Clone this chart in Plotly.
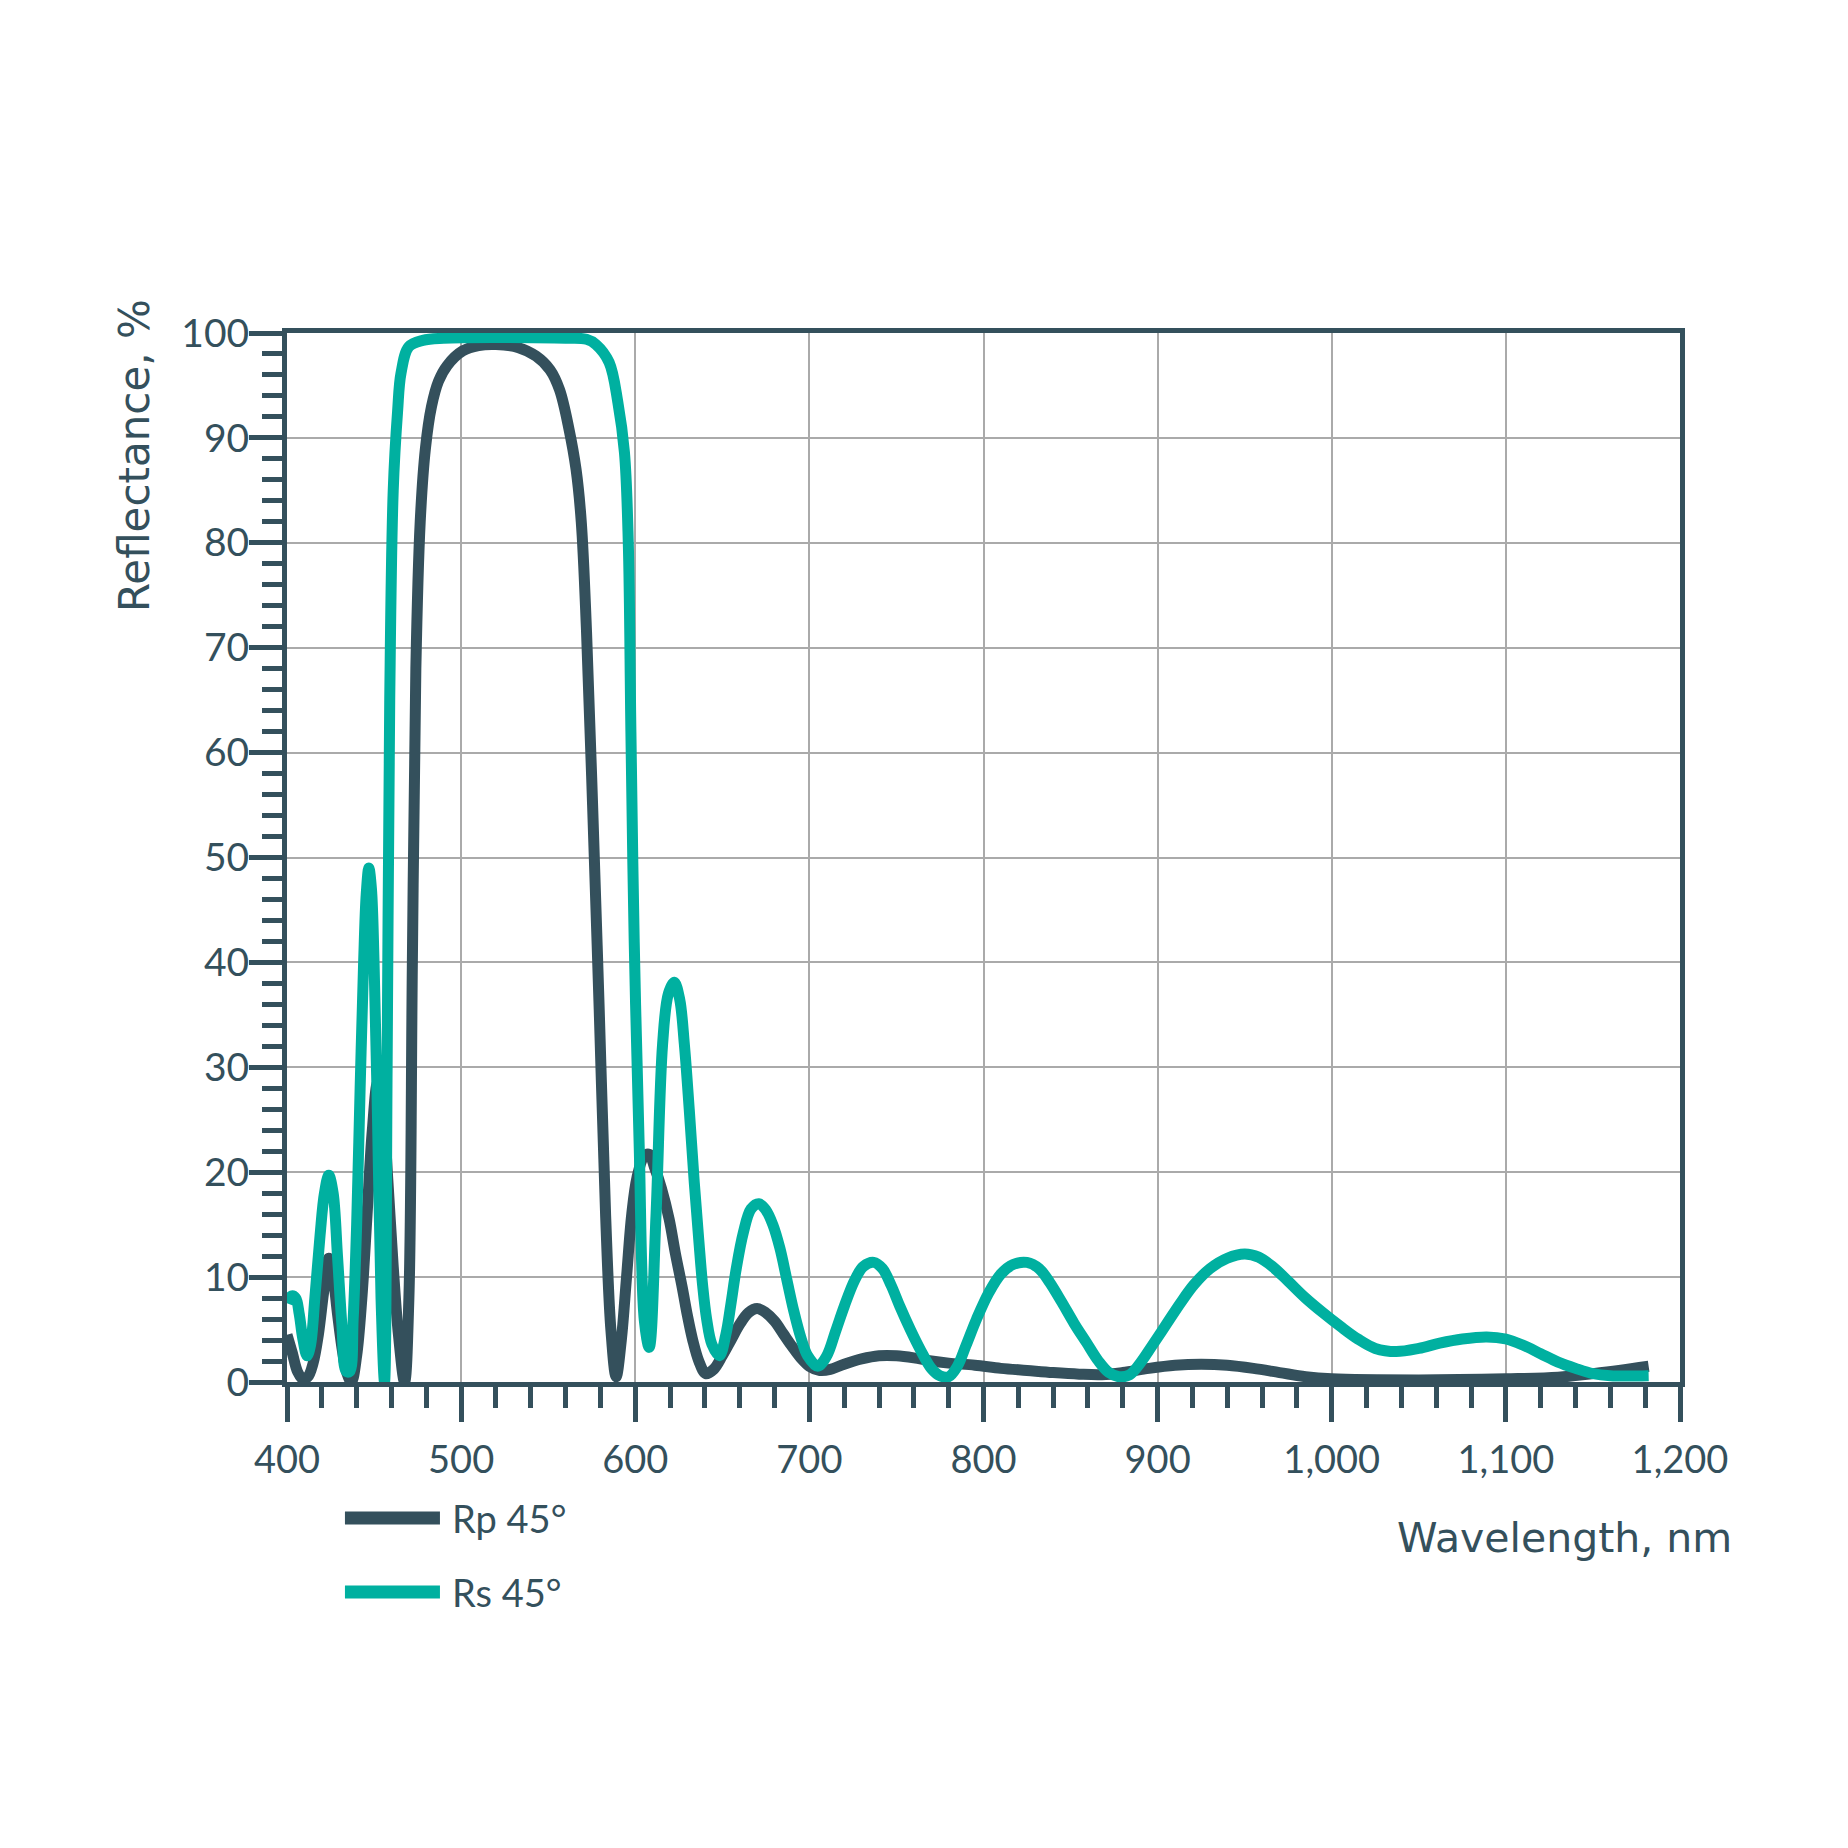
import plotly.graph_objects as go

DARK = "#34505c"
TEAL = "#00b0a0"
GRID = "#aaaaaa"

# Rp 45 deg reflectance (dark curve), wavelength in nm
rp_nm = [400, 403, 406, 409, 412, 415, 418, 421, 424, 426.5, 429, 432, 434.5, 437,
         440, 443, 446, 449, 452, 455, 458, 461, 464, 467.5, 470, 472, 474, 476.5,
         479.5, 483, 487, 492, 501, 510, 520, 533, 543, 551, 556.5, 562, 566, 569, 572,
         575.5, 579.3, 583, 586, 589, 592, 595, 598, 601, 605, 608, 611, 615, 619.5,
         623, 627, 630, 633, 636.5, 640.5, 645, 650, 655, 660, 665, 670, 675, 680, 685,
         690, 695, 700, 706, 712, 720, 730, 740, 750, 760, 770, 780, 795, 810, 825, 840,
         855, 868, 880, 895, 910, 925, 940, 955, 970, 985, 1000, 1050, 1100, 1130,
         1150, 1165, 1182]
rp_val = [4.5, 2.8, 1, 0.3, 0.5, 1.8, 4.5, 8.5, 11.8, 10, 6.5, 2.8, 0.8, 0,
          2.5, 8, 16, 24, 28.5, 26, 19, 11, 4.5, 0, 8, 40, 68, 82,
          89, 93, 95.4, 96.9, 98.3, 98.8, 98.9, 98.6, 97.8, 96.5, 94.6, 90.8, 87, 82, 71.6,
          55, 35.5, 15.8, 5, 0.5, 4, 10, 16, 19.5, 21.5, 21.7, 20.5, 18.5, 15.5,
          12.3, 9, 6.3, 4, 2, 0.8, 1.2, 2.5, 4, 5.5, 6.6, 7, 6.6, 5.8, 4.6,
          3.4, 2.3, 1.5, 1.1, 1.2, 1.7, 2.2, 2.5, 2.5, 2.3, 2.0, 1.8, 1.6, 1.3, 1.1, 0.9,
          0.75, 0.7, 0.9, 1.3, 1.6, 1.7, 1.6, 1.3, 0.9, 0.5, 0.3, 0.2, 0.3, 0.45,
          0.8, 1.1, 1.5]

# Rs 45 deg reflectance (teal curve)
rs_nm = [400, 402.5, 405, 407, 409, 411.5, 413.5, 416, 419, 421.5, 424, 426.5, 429,
         431.5, 434, 436, 438, 440, 442, 444, 445.5, 447, 448.5, 450, 452, 454, 456,
         457.5, 459, 461, 463.5, 465.5, 470, 478, 490, 560, 572, 577.5, 585, 590,
         593.8, 596, 597.5, 599.4, 602.3, 605.2, 608, 611.9, 615.7, 619, 622.4, 625.5,
         628.2, 631, 633.9, 636.5, 638.7, 641, 644, 648.3, 652, 655, 658, 662, 666.5,
         671, 675, 679, 683, 687, 691, 695, 699, 704.8, 710, 715, 720, 726, 731, 737,
         742, 747, 752, 758, 764, 770, 775, 780, 785, 790, 796, 803, 810, 817, 825,
         832, 838, 845, 852, 859, 866, 872, 878, 884, 890, 897, 905, 913, 921, 930,
         940, 950, 958, 966, 975, 985, 995, 1005, 1015, 1025, 1037, 1050, 1062, 1075,
         1089, 1100, 1110, 1120, 1130, 1140, 1150, 1160, 1182]
rs_val = [7.5, 8.2, 8, 6.5, 4.2, 2.5, 3.5, 8, 14, 18, 19.7, 18, 12,
          5.5, 1, 1, 6, 15, 28, 40, 46.5, 49, 47, 40, 25, 8, 0,
          30, 65, 85, 92.5, 96.2, 98.7, 99.3, 99.5, 99.5, 99.4, 98.9, 97.2, 93.4,
          88.6, 80, 62, 42, 22.3, 5.9, 3.3, 15.8, 32.2, 37, 38.1, 36.5,
          32.2, 26, 19, 13.5, 9.2, 6, 3.6, 2.5, 4.5, 7.5, 10.8, 14.2, 16.5,
          17, 16.4, 15, 12.8, 9.8, 6.8, 4.3, 2.5, 1.5, 2.5, 4.8, 7.2, 9.7, 11, 11.4,
          10.8, 9.2, 7.2, 5, 3, 1.3, 0.6, 0.5, 1.5, 3.5, 6, 8.5, 10.3, 11.2, 11.4,
          10.8, 9.5, 7.6, 5.6, 3.8, 2.0, 0.9, 0.5, 0.7, 1.8, 3.5, 5.5, 7.5, 9.3, 10.8,
          11.8, 12.2, 11.9, 11, 9.6, 8.0, 6.6, 5.3, 4.1, 3.2, 2.9, 3.2, 3.7, 4.1,
          4.3, 4.1, 3.5, 2.7, 1.9, 1.3, 0.8, 0.6, 0.6]

series_names = ["Rp 45°", "Rs 45°"]
series_colors = [DARK, TEAL]

x_tickvals = [400, 500, 600, 700, 800, 900, 1000, 1100, 1200]
x_ticktext = ["400", "500", "600", "700", "800", "900", "1,000", "1,100", "1,200"]
y_tickvals = [0, 10, 20, 30, 40, 50, 60, 70, 80, 90, 100]

fig = go.Figure()
for name, xs, ys, col in zip(series_names, [rp_nm, rs_nm], [rp_val, rs_val], series_colors):
    fig.add_trace(go.Scatter(x=xs, y=ys, name=name, mode="lines",
                             line=dict(color=col, width=11, shape="spline", smoothing=1.0)))

fig.update_xaxes(
    range=[400, 1200], tickvals=x_tickvals, ticktext=x_ticktext,
    showline=True, linecolor=DARK, linewidth=5, mirror=True,
    showgrid=True, gridcolor=GRID, gridwidth=2, zeroline=False,
    ticks="outside", ticklen=35, tickwidth=5, tickcolor=DARK,
    minor=dict(dtick=20, tick0=400, ticks="outside", ticklen=21, tickwidth=5,
               tickcolor=DARK, showgrid=False),
    tickfont=dict(family="Lato", size=38, color=DARK),
    ticklabelstandoff=5,
)
fig.update_yaxes(
    range=[0, 100], tickvals=y_tickvals,
    showline=True, linecolor=DARK, linewidth=5, mirror=True,
    showgrid=True, gridcolor=GRID, gridwidth=2, zeroline=False,
    ticks="outside", ticklen=33, tickwidth=5, tickcolor=DARK,
    minor=dict(dtick=2, tick0=0, ticks="outside", ticklen=20, tickwidth=5,
               tickcolor=DARK, showgrid=False),
    tickfont=dict(family="Lato", size=39, color=DARK),
    ticklabelstandoff=-8,
)

# axis titles
fig.add_annotation(text="Reflectance, %", xref="paper", yref="paper",
                   x=-0.109, y=1.034, xanchor="center", yanchor="top",
                   textangle=-90, showarrow=False,
                   font=dict(family="DejaVu Sans", size=42, color=DARK))
fig.add_annotation(text="Wavelength, nm", xref="paper", yref="paper",
                   x=1.0387, y=-0.1484, xanchor="right", yanchor="middle",
                   showarrow=False,
                   font=dict(family="DejaVu Sans", size=41, color=DARK))

# legend drawn by hand below the plot
leg_y = [-0.1296, -0.2002]
for name, col, ly in zip(series_names, series_colors, leg_y):
    fig.add_shape(type="line", xref="paper", yref="paper",
                  x0=0.0416, x1=0.1098, y0=ly, y1=ly,
                  line=dict(color=col, width=13))
    fig.add_annotation(text=name, xref="paper", yref="paper",
                       x=0.117, y=ly, xanchor="left", yanchor="middle",
                       showarrow=False,
                       font=dict(family="Lato", size=38, color=DARK))

# page body adds an 8px offset, so the figure is 1840 square
fig.update_layout(
    width=1840, height=1840, autosize=False,
    margin=dict(l=279, r=168, t=325, b=466),
    paper_bgcolor="white", plot_bgcolor="white",
    showlegend=False,
)

fig.write_html("out.html")
